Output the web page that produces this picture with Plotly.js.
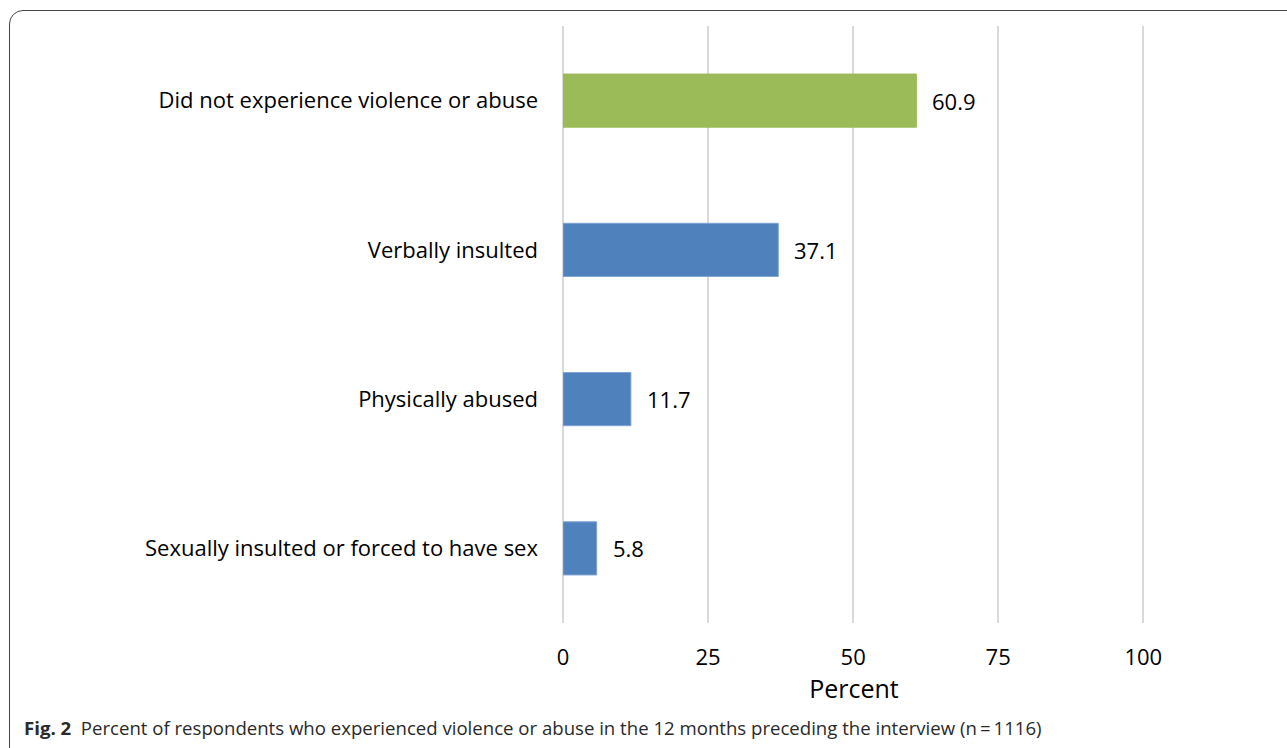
<!DOCTYPE html>
<html>
<head>
<meta charset="utf-8">
<script src="https://cdn.plot.ly/plotly-3.0.1.min.js"></script>
<style>
html,body{margin:0;padding:0;background:#fff;overflow:hidden;}
#frame{position:absolute;left:9px;top:10px;width:1400px;height:780px;border:1.5px solid #444;border-radius:14px;box-sizing:border-box;pointer-events:none;z-index:2;}
#chart{position:absolute;left:0;top:0;width:1287px;height:748px;}
</style>
</head>
<body>
<div id="frame"></div>
<div id="chart"></div>
<script>
const categories = [
  "Did not experience violence or abuse",
  "Verbally insulted",
  "Physically abused",
  "Sexually insulted or forced to have sex"
];
const percentValues = [60.9, 37.1, 11.7, 5.8];
const valueLabels = ["60.9", "37.1", "11.7", "5.8"];
const barColors = ["#9BBB59", "#4F81BD", "#4F81BD", "#4F81BD"];
const xTickValues = [0, 25, 50, 75, 100];
const xTickLabels = ["0", "25", "50", "75", "100"];
const captionBold = "Fig. 2";
const captionText = "Percent of respondents who experienced violence or abuse in the 12 months preceding the interview (n\u2009=\u20091116)";

const W = 1287, H = 748;
const xMax = 100.3;
const L = 563, T = 26, B = 125;
const pw = Math.round(5.8 * xMax);
const R = W - L - pw;
const ph = H - T - B;
const px2x = p => (p - L) / pw;
const py2y = p => (H - B - p) / ph;

const labelFont = {family: "'Open Sans', sans-serif", size: 22, color: "#000"};

const trace = {
  type: "bar",
  orientation: "h",
  x: percentValues,
  y: categories,
  marker: {color: barColors, line: {color: barColors.map(c => c === "#4F81BD" ? "#7FA3D3" : c), width: 1}},
  hoverinfo: "x+y"
};

const annotations = categories.map((c, i) => ({
  x: percentValues[i], y: c, xref: "x", yref: "y",
  text: valueLabels[i], showarrow: false, xanchor: "left", yanchor: "middle",
  xshift: 14, font: labelFont
}));

annotations.push({
  xref: "paper", yref: "paper", x: px2x(22), y: py2y(727),
  xanchor: "left", yanchor: "middle", showarrow: false, align: "left",
  text: "<b>" + captionBold + "</b>  " + captionText,
  font: {family: "'Open Sans', sans-serif", size: 18.6, color: "#2a2a2a"}
});

const layout = {
  width: W, height: H,
  margin: {l: L, r: R, t: T, b: B, pad: 0},
  paper_bgcolor: "rgba(0,0,0,0)",
  plot_bgcolor: "rgba(0,0,0,0)",
  showlegend: false,
  bargap: 0.644,
  xaxis: {
    range: [0, xMax],
    tickvals: xTickValues, ticktext: xTickLabels,
    showgrid: true, gridcolor: "#D9D9D9", gridwidth: 2,
    zeroline: true, zerolinecolor: "#D9D9D9", zerolinewidth: 2,
    showline: false, ticks: "",
    ticklabelstandoff: 19,
    tickfont: labelFont,
    title: {text: "Percent", font: {family: "'Open Sans', sans-serif", size: 25, color: "#000"}, standoff: 8},
    automargin: false, fixedrange: true
  },
  yaxis: {
    categoryorder: "array", categoryarray: categories,
    autorange: "reversed",
    showgrid: false, zeroline: false, showline: false, ticks: "",
    ticklabelstandoff: 24,
    tickfont: labelFont,
    automargin: false, fixedrange: true
  },
  annotations: annotations
};

Plotly.newPlot("chart", [trace], layout, {displayModeBar: false, staticPlot: true});
</script>
</body>
</html>
